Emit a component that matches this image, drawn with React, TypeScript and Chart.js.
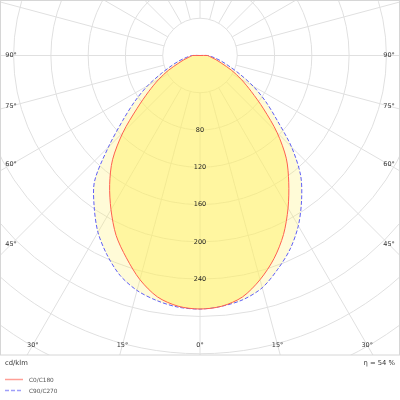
import React, { useEffect, useRef } from "react";
import { Chart, registerables } from "chart.js";

Chart.register(...registerables);

// ---------------- data ----------------
// gamma angles (deg from nadir) and luminous intensity (cd/klm)
const angles = [0, 5, 10, 15, 20, 25, 30, 35, 40, 45, 50, 55, 60, 65, 70, 75, 80, 85, 90];
const c0 = [272, 270, 263, 249, 232, 212, 189, 166, 144, 117, 89, 67, 51, 37, 25, 18, 13, 10, 8];
const c180 = [272, 270, 263, 249, 231, 213, 191, 169, 146, 117, 88, 67, 51, 37, 25, 18, 13, 10, 8];
const c90 = [272, 270, 266, 258, 244, 229, 211, 190, 168, 139, 108, 86, 66, 47, 33, 24, 17, 12, 8];
const c270 = [272, 271, 267, 261, 251, 236, 219, 198, 176, 139, 108, 85, 65, 46, 33, 24, 17, 12, 8];
const seriesLabels = ["C0/C180", "C90/C270"];

const ringValues = [40, 80, 120, 160, 200, 240, 280, 320, 360, 400, 440];
const ringLabels = [80, 120, 160, 200, 240];
const spokeAngles = [0, 15, 30, 45, 60, 75, 90, 105, 120, 135, 150, 165, 180, 195, 210, 225, 240, 255, 270, 285, 300, 315, 330, 345];
const angleTickLabels = [-90, -75, -60, -45, -30, -15, 0, 15, 30, 45, 60, 75, 90];
const unitText = "cd/klm";
const efficiencyText = "η = 54 %";

// ---------------- layout / style ----------------
const W = 400;
const H = 400;
const FRAME_BOTTOM = 355;
const PX_PER_UNIT = 0.932;
const CENTER_Y_PX = 55.5;
const X_HALF = W / 2 / PX_PER_UNIT;
const Y_MAX = CENTER_Y_PX / PX_PER_UNIT;
const Y_MIN = -(FRAME_BOTTOM - CENTER_Y_PX) / PX_PER_UNIT;
const FONT = '"DejaVu Sans", Verdana, sans-serif';
const RED = "rgb(255,95,80)";
const BLUE = "rgb(95,95,245)";
const GRID = "rgb(224,224,224)";

function toRad(d: number) {
  return (d * Math.PI) / 180;
}

function buildCurve(right: number[], left: number[]) {
  const pts: { x: number; y: number }[] = [{ x: 0, y: 0 }];
  for (let i = angles.length - 1; i >= 0; i--) {
    const a = toRad(angles[i]);
    pts.push({ x: -left[i] * Math.sin(a), y: -left[i] * Math.cos(a) });
  }
  for (let i = 1; i < angles.length; i++) {
    const a = toRad(angles[i]);
    pts.push({ x: right[i] * Math.sin(a), y: -right[i] * Math.cos(a) });
  }
  pts.push({ x: 0, y: 0 });
  return pts;
}

const polarPlugin = {
  id: "polarGrid",
  beforeDatasetsDraw(chart: any) {
    const { ctx, chartArea } = chart;
    const xs = chart.scales.x;
    const ys = chart.scales.y;
    const cx = xs.getPixelForValue(0);
    const cy = ys.getPixelForValue(0);
    ctx.save();
    ctx.beginPath();
    ctx.rect(chartArea.left, chartArea.top, chartArea.right - chartArea.left, chartArea.bottom - chartArea.top);
    ctx.clip();
    ctx.strokeStyle = GRID;
    ctx.lineWidth = 1;
    for (const r of ringValues) {
      const rp = xs.getPixelForValue(r) - cx;
      ctx.beginPath();
      ctx.arc(cx, cy, rp, 0, Math.PI * 2);
      ctx.stroke();
    }
    const inner = ringValues[0];
    const outer = 1000;
    for (const d of spokeAngles) {
      const a = toRad(d);
      ctx.beginPath();
      ctx.moveTo(xs.getPixelForValue(inner * Math.sin(a)), ys.getPixelForValue(-inner * Math.cos(a)));
      ctx.lineTo(xs.getPixelForValue(outer * Math.sin(a)), ys.getPixelForValue(-outer * Math.cos(a)));
      ctx.stroke();
    }
    ctx.restore();
  },
  afterDatasetsDraw(chart: any) {
    const { ctx, chartArea } = chart;
    const xs = chart.scales.x;
    const ys = chart.scales.y;
    const cx = xs.getPixelForValue(0);
    const cy = ys.getPixelForValue(0);
    ctx.save();
    // frame
    ctx.strokeStyle = "rgb(214,214,214)";
    ctx.lineWidth = 1;
    ctx.strokeRect(chartArea.left + 0.5, chartArea.top + 0.5, chartArea.right - chartArea.left - 1, chartArea.bottom - chartArea.top - 0.5);

    // ring labels
    ctx.fillStyle = "#222";
    ctx.font = `6.5px ${FONT}`;
    ctx.textAlign = "center";
    ctx.textBaseline = "middle";
    for (const v of ringLabels) {
      ctx.fillText(String(v), cx, ys.getPixelForValue(-v));
    }

    // angle labels along the frame
    ctx.fillStyle = "#333";
    const insetL = chartArea.left + 11;
    const insetR = chartArea.right - 11;
    const insetB = chartArea.bottom - 10;
    for (const d of angleTickLabels) {
      const a = toRad(d);
      const dx = Math.sin(a);
      const dy = Math.cos(a);
      let t = Infinity;
      if (dx < -1e-9) t = Math.min(t, (insetL - cx) / dx);
      if (dx > 1e-9) t = Math.min(t, (insetR - cx) / dx);
      if (dy > 1e-9) t = Math.min(t, (insetB - cy) / dy);
      ctx.fillText(`${Math.abs(d)}°`, cx + t * dx, cy + t * dy);
    }

    // bottom texts
    ctx.fillStyle = "#333";
    ctx.font = `6.8px ${FONT}`;
    ctx.textAlign = "left";
    ctx.fillText(unitText, 5, 363);
    ctx.textAlign = "right";
    ctx.fillText(efficiencyText, 395, 363);

    // legend
    const items = [
      { label: seriesLabels[0], color: "rgba(255,95,80,0.6)", dash: [] as number[], y: 379.5 },
      { label: seriesLabels[1], color: "rgba(95,95,245,0.6)", dash: [4, 2], y: 390.5 },
    ];
    ctx.font = `5.8px ${FONT}`;
    ctx.textAlign = "left";
    for (const it of items) {
      ctx.strokeStyle = it.color;
      ctx.lineWidth = 1.5;
      ctx.setLineDash(it.dash);
      ctx.beginPath();
      ctx.moveTo(5, it.y);
      ctx.lineTo(23, it.y);
      ctx.stroke();
      ctx.setLineDash([]);
      ctx.fillStyle = "#555";
      ctx.fillText(it.label, 29, it.y + 0.5);
    }
    ctx.restore();
  },
};

export default function App() {
  const ref = useRef<HTMLCanvasElement | null>(null);
  useEffect(() => {
    document.body.style.margin = "0";
    const canvas = ref.current;
    if (!canvas) return;
    const chart = new Chart(canvas, {
      type: "scatter",
      data: {
        datasets: [
          {
            label: seriesLabels[0],
            data: buildCurve(c0, c180),
            showLine: true,
            borderColor: RED,
            borderWidth: 1,
            pointRadius: 0,
            tension: 0.3,
            fill: "shape",
            backgroundColor: "rgba(255,240,100,0.48)",
          },
          {
            label: seriesLabels[1],
            data: buildCurve(c90, c270),
            showLine: true,
            borderColor: BLUE,
            borderWidth: 1,
            borderDash: [4, 2],
            pointRadius: 0,
            tension: 0.3,
            fill: "shape",
            backgroundColor: "rgba(255,240,100,0.26)",
          },
        ],
      } as any,
      options: {
        animation: false,
        responsive: false,
        maintainAspectRatio: false,
        events: [],
        layout: { padding: { left: 0, right: 0, top: 0, bottom: H - FRAME_BOTTOM } },
        scales: {
          x: { type: "linear", min: -X_HALF, max: X_HALF, display: false },
          y: { type: "linear", min: Y_MIN, max: Y_MAX, display: false },
        },
        plugins: {
          legend: { display: false },
          tooltip: { enabled: false },
        },
      } as any,
      plugins: [polarPlugin],
    });
    return () => chart.destroy();
  }, []);
  return (
    <div style={{ position: "absolute", left: 0, top: 0, width: W, height: H, background: "#fff" }}>
      <canvas ref={ref} width={W} height={H} style={{ display: "block", width: W, height: H }} />
    </div>
  );
}
